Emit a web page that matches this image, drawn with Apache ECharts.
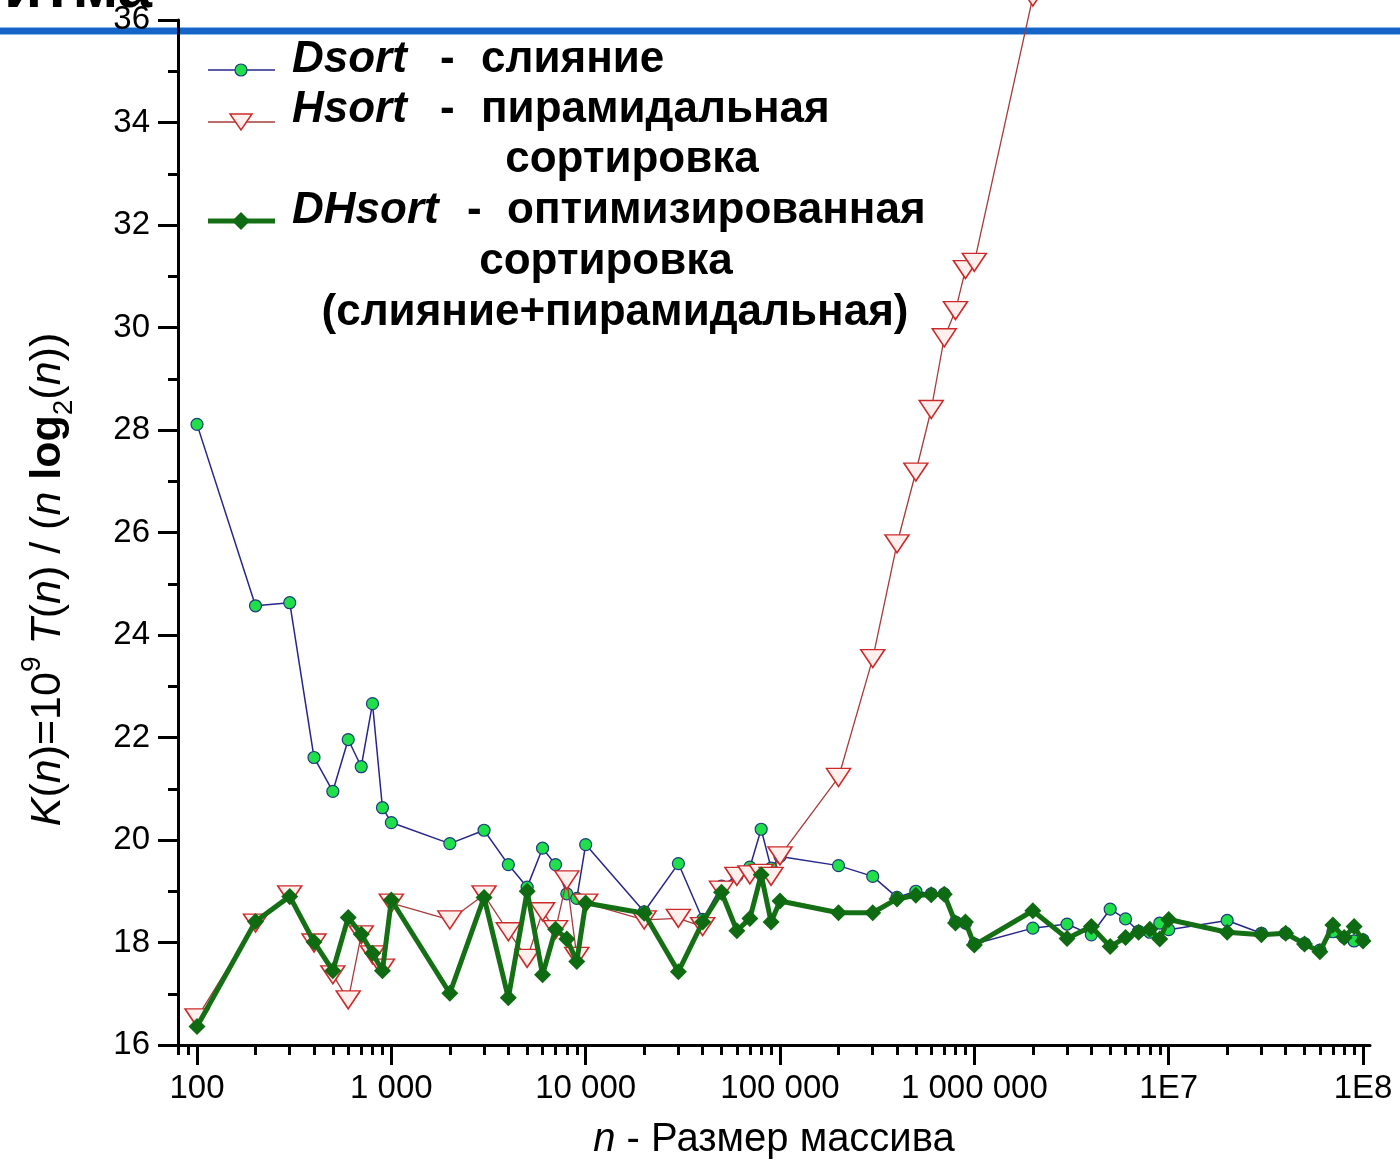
<!DOCTYPE html>
<html><head><meta charset="utf-8">
<script src="https://cdn.jsdelivr.net/npm/echarts@6/dist/echarts.min.js"></script>
<style>html,body{margin:0;padding:0;background:#fff}#c{width:1400px;height:1165px}</style>
</head><body><div id="c"></div>
<script>
// Array sizes n
const sizes = [100,200,300,400,500,600,700,800,900,
  1000,2000,3000,4000,5000,6000,7000,8000,9000,
  10000,20000,30000,40000,50000,60000,70000,80000,90000,
  100000,200000,300000,400000,500000,600000,700000,800000,900000,
  1000000,2000000,3000000,4000000,5000000,6000000,7000000,8000000,9000000,
  10000000,20000000,30000000,40000000,50000000,60000000,70000000,80000000,90000000,
  100000000];

// Dsort - merge
const dsort = [28.11,24.57,24.63,21.61,20.95,21.96,21.43,22.66,20.63,
  20.34,19.93,20.19,19.52,19.08,19.84,19.52,18.95,18.86,
  19.91,18.60,19.54,18.45,19.10,19.30,19.47,20.21,19.45,
  19.68,19.50,19.29,18.88,19.00,18.95,18.95,18.40,18.38,
  17.97,18.28,18.36,18.15,18.65,18.46,18.22,18.20,18.38,
  18.25,18.43,18.18,18.18,17.98,17.85,18.21,18.10,18.03,
  18.05];

// Hsort - heap (up to 2 000 000)
const hsort = [16.53,18.38,18.93,17.99,17.37,16.88,18.15,17.76,17.50,
  18.77,18.44,18.93,18.21,17.69,18.60,18.25,19.22,17.73,
  18.77,18.44,18.47,18.31,19.02,19.29,19.32,19.35,19.29,
  19.69,21.22,23.54,25.78,27.18,28.40,29.80,30.33,31.13,
  31.27,36.45];

// DHsort - optimized
const dhsort = [16.36,18.41,18.90,18.01,17.45,18.49,18.16,17.79,17.45,
  18.83,17.01,18.88,16.92,19.00,17.37,18.26,18.07,17.63,
  18.77,18.57,17.43,18.40,18.98,18.23,18.47,19.32,18.40,
  18.81,18.58,18.58,18.85,18.92,18.93,18.94,18.38,18.40,
  17.95,18.62,18.08,18.31,17.92,18.10,18.20,18.26,18.07,
  18.45,18.20,18.15,18.18,17.97,17.82,18.34,18.10,18.31,
  18.03];

const xDecades = [100,1000,10000,100000,1000000,10000000,100000000];
const xTickLabels = ['100','1 000','10 000','100 000','1 000 000','1E7','1E8'];
const xMin = 79.84, xMax = 1.0865e8;

const minorVals = [];
for (let d = 1; d <= 7; d++) for (let k = 2; k <= 9; k++) {
  const v = k * Math.pow(10, d);
  if (v > xMin && v < xMax) minorVals.push(Math.log10(v));
}
const FF = '"Liberation Sans", Arial, sans-serif';
const LF = 'bold 44px ' + FF;
const LFI = 'italic bold 44px ' + FF;

const chart = echarts.init(document.getElementById('c'), null, {renderer: 'canvas'});
const lMin = Math.log10(xMin), lMax = Math.log10(xMax);

const legText = (txt, x, y, font, align) => ({
  type: 'text', x: x, y: y, z: 50,
  style: {text: txt, fill: '#000', font: font || LF, verticalAlign: 'middle', textAlign: align || 'left'}
});

chart.setOption({
  animation: false,
  backgroundColor: '#fff',
  grid: {left: 178, right: 30, top: 20, bottom: 118, containLabel: false},
  xAxis: [
    {type: 'log', logBase: 10, min: xMin, max: xMax, position: 'bottom',
     axisLine: {show: true, lineStyle: {color: '#000', width: 3}},
     axisTick: {show: false}, axisLabel: {show: false}, splitLine: {show: false},
     name: '{i|n} - Размер массива', nameLocation: 'middle', nameGap: 75,
     nameTextStyle: {fontSize: 40, fontFamily: FF, color: '#000',
       rich: {i: {fontStyle: 'italic', fontSize: 40, fontFamily: FF, color: '#000'}}}},
    {type: 'value', min: lMin, max: lMax, position: 'bottom',
     axisLine: {show: false}, splitLine: {show: false},
     axisTick: {show: true, customValues: xDecades.map(Math.log10), length: 20, lineStyle: {color: '#000', width: 3}},
     axisLabel: {show: true, customValues: xDecades.map(Math.log10), margin: 27, fontSize: 33, fontFamily: FF, color: '#000',
       formatter: v => xTickLabels[Math.round(v) - 2]}},
    {type: 'value', min: lMin, max: lMax, position: 'bottom',
     axisLine: {show: false}, splitLine: {show: false},
     axisTick: {show: true, customValues: minorVals, length: 10, lineStyle: {color: '#000', width: 3}},
     axisLabel: {show: false}}
  ],
  yAxis: {
    type: 'value', min: 16, max: 36, interval: 2,
    axisLine: {show: true, lineStyle: {color: '#000', width: 3}},
    axisTick: {show: true, length: 20, lineStyle: {color: '#000', width: 3}},
    minorTick: {show: true, splitNumber: 2, length: 10, lineStyle: {color: '#000', width: 3}},
    splitLine: {show: false}, minorSplitLine: {show: false},
    axisLabel: {fontSize: 33, fontFamily: FF, color: '#000', margin: 28},
    name: '{i|K}({i|n})=10{sup|9} {i|T}({i|n}) / ({i|n} {b|log}{sub|2}({i|n}))',
    nameLocation: 'middle', nameRotate: 90, nameGap: 100,
    nameTextStyle: {fontSize: 43, fontFamily: FF, color: '#000', lineHeight: 60, padding: [0, 94, 0, 0],
      rich: {
        i: {fontStyle: 'italic', fontSize: 43, fontFamily: FF, color: '#000'},
        b: {fontWeight: 'bold', fontSize: 43, fontFamily: FF, color: '#000'},
        sup: {fontSize: 28, fontFamily: FF, color: '#000', verticalAlign: 'top'},
        sub: {fontSize: 28, fontFamily: FF, color: '#000', verticalAlign: 'bottom'}
      }}
  },
  series: [
    {name: 'Dsort', type: 'line', z: 2, data: sizes.map((n, i) => [n, dsort[i]]),
     symbol: 'circle', symbolSize: 12,
     lineStyle: {color: '#26268c', width: 1.5},
     itemStyle: {color: '#1fe04a', borderColor: '#1d3d7a', borderWidth: 1.2}},
    {name: 'Hsort', type: 'line', z: 3, clip: false, data: hsort.map((v, i) => [sizes[i], v]),
     symbol: 'triangle', symbolRotate: 180, symbolSize: [24, 18],
     lineStyle: {color: '#a83a3a', width: 1.3},
     itemStyle: {color: '#fff0ee', borderColor: '#cc2a2a', borderWidth: 1.5}},
    {name: 'DHsort', type: 'line', z: 4, data: sizes.map((n, i) => [n, dhsort[i]]),
     symbol: 'diamond', symbolSize: [17, 17],
     lineStyle: {color: '#157015', width: 5},
     itemStyle: {color: '#0e6b12', borderColor: '#0e6b12', borderWidth: 0}}
  ],
  graphic: [
    {type: 'rect', z: -10, shape: {x: 0, y: 27, width: 1400, height: 8}, style: {fill: '#8ab6ea'}},
    {type: 'rect', z: -9, shape: {x: 0, y: 28, width: 1400, height: 6}, style: {fill: '#1565c8'}},
    {type: 'text', z: -8, x: 152, y: -10, style: {text: 'алгоритма', font: 'bold 62px ' + FF, fill: '#000', textAlign: 'right', verticalAlign: 'middle'}},
    // legend markers
    {type: 'line', z: 50, shape: {x1: 208, y1: 70, x2: 275, y2: 70}, style: {stroke: '#26268c', lineWidth: 1.5}},
    {type: 'circle', z: 51, shape: {cx: 241, cy: 70, r: 6}, style: {fill: '#1fe04a', stroke: '#1d3d7a', lineWidth: 1.2}},
    {type: 'line', z: 50, shape: {x1: 208, y1: 122, x2: 275, y2: 122}, style: {stroke: '#a83a3a', lineWidth: 1.3}},
    {type: 'polygon', z: 51, shape: {points: [[230, 114], [252, 114], [241, 130]]}, style: {fill: '#fff0ee', stroke: '#cc2a2a', lineWidth: 1.5}},
    {type: 'line', z: 50, shape: {x1: 208, y1: 221, x2: 275, y2: 221}, style: {stroke: '#157015', lineWidth: 5}},
    {type: 'polygon', z: 51, shape: {points: [[241, 212], [250, 221], [241, 230], [232, 221]]}, style: {fill: '#0e6b12'}},
    // legend texts
    legText('Dsort', 292, 60, LFI),
    legText('-', 440, 60),
    legText('слияние', 481, 60),
    legText('Hsort', 292, 110, LFI),
    legText('-', 440, 110),
    legText('пирамидальная', 481, 110),
    legText('сортировка', 632, 160, LF, 'center'),
    legText('DHsort', 292, 211, LFI),
    legText('-', 467, 211),
    legText('оптимизированная', 507, 211),
    legText('сортировка', 606, 262, LF, 'center'),
    legText('(слияние+пирамидальная)', 615, 313, LF, 'center')
  ]
});
</script></body></html>
